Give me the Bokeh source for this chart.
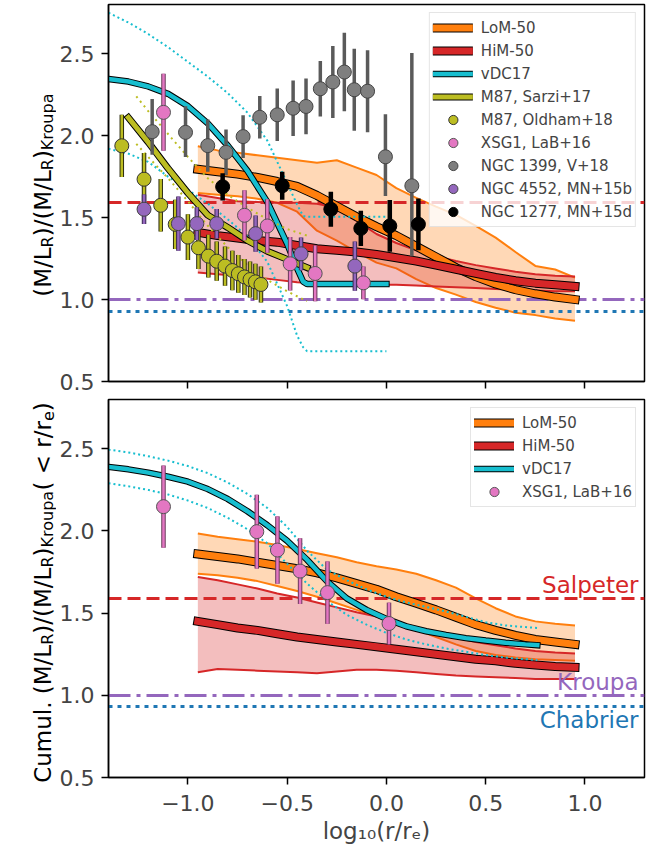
import math
from bokeh.plotting import figure
from bokeh.models import (ColumnDataSource, Legend, LegendItem, Label, FixedTicker,
                          CustomJSTickFormatter, PrintfTickFormatter, Range1d)
from bokeh.layouts import column, row
from bokeh.embed import file_html
from bokeh.resources import INLINE

# ------------------------------------------------------------------ data
XLIM = (-1.4, 1.3)
YLIM = (0.5, 2.8)
x_ticks = [-1.0, -0.5, 0.0, 0.5, 1.0]
y_ticks = [0.5, 1.0, 1.5, 2.0, 2.5]

imf_names = ["Salpeter", "Kroupa", "Chabrier"]
imf_values = [1.59, 1.0, 0.93]

x_model = [-0.95, -0.85, -0.75, -0.65, -0.55, -0.45, -0.35, -0.25, -0.15, -0.05,
           0.05, 0.15, 0.25, 0.35, 0.45, 0.55, 0.65, 0.75, 0.85, 0.95]

# local profiles (top panel)
lom_local = [1.795, 1.78, 1.765, 1.745, 1.72, 1.69, 1.635, 1.57, 1.505, 1.445,
             1.39, 1.325, 1.26, 1.195, 1.14, 1.095, 1.06, 1.035, 1.015, 1.0]
lom_local_hi = [1.935, 1.91, 1.895, 1.88, 1.865, 1.85, 1.835, 1.85, 1.805, 1.76,
                1.68, 1.62, 1.567, 1.517, 1.45, 1.378, 1.29, 1.205, 1.183, 1.134]
lom_local_lo = [1.65, 1.64, 1.63, 1.615, 1.59, 1.536, 1.42, 1.36, 1.29, 1.225,
                1.19, 1.125, 1.07, 1.03, 0.985, 0.95, 0.92, 0.905, 0.885, 0.87]
him_local = [1.41, 1.39, 1.375, 1.36, 1.35, 1.33, 1.31, 1.30, 1.29, 1.275,
             1.255, 1.235, 1.21, 1.185, 1.16, 1.135, 1.115, 1.10, 1.09, 1.08]
him_local_hi = [1.64, 1.62, 1.60, 1.595, 1.59, 1.59, 1.585, 1.56, 1.48, 1.40,
                1.345, 1.30, 1.265, 1.235, 1.21, 1.19, 1.17, 1.155, 1.145, 1.14]
him_local_lo = [1.165, 1.155, 1.145, 1.135, 1.12, 1.105, 1.10, 1.095, 1.095, 1.09,
                1.09, 1.085, 1.08, 1.075, 1.07, 1.065, 1.06, 1.055, 1.05, 1.05]

# cumulative profiles (bottom panel)
lom_cum = [1.86, 1.845, 1.83, 1.81, 1.79, 1.77, 1.745, 1.715, 1.68, 1.645,
           1.60, 1.56, 1.52, 1.475, 1.43, 1.395, 1.365, 1.34, 1.325, 1.31]
lom_cum_hi = [1.985, 1.965, 1.95, 1.935, 1.915, 1.89, 1.865, 1.84, 1.81, 1.785,
              1.765, 1.74, 1.70, 1.655, 1.59, 1.53, 1.48, 1.45, 1.435, 1.425]
lom_cum_lo = [1.74, 1.73, 1.715, 1.695, 1.665, 1.635, 1.60, 1.56, 1.52, 1.48,
              1.44, 1.40, 1.355, 1.31, 1.27, 1.245, 1.23, 1.22, 1.215, 1.21]
him_cum = [1.45, 1.43, 1.41, 1.395, 1.375, 1.355, 1.34, 1.325, 1.31, 1.295,
           1.28, 1.265, 1.25, 1.235, 1.22, 1.21, 1.195, 1.185, 1.175, 1.17]
him_cum_hi = [1.72, 1.70, 1.675, 1.65, 1.62, 1.595, 1.565, 1.535, 1.505, 1.48,
              1.45, 1.415, 1.38, 1.35, 1.325, 1.305, 1.285, 1.27, 1.26, 1.255]
him_cum_lo = [1.14, 1.16, 1.155, 1.15, 1.145, 1.14, 1.135, 1.145, 1.155, 1.155,
              1.15, 1.14, 1.13, 1.12, 1.115, 1.11, 1.105, 1.10, 1.10, 1.10]

# vDC17 local
x_vdc_local = [-1.4, -1.3, -1.2, -1.1, -1.0, -0.9, -0.8, -0.7, -0.6, -0.5, -0.45,
               -0.42, -0.4, -0.3, -0.2, -0.1, 0.0]
vdc_local = [2.345, 2.33, 2.30, 2.255, 2.18, 2.075, 1.94, 1.785, 1.595, 1.34, 1.19,
             1.11, 1.095, 1.095, 1.095, 1.095, 1.095]
vdc_local_hi = [2.75, 2.69, 2.62, 2.54, 2.45, 2.36, 2.26, 2.14, 1.97, 1.71, 1.58,
                1.51, 1.505, 1.505, 1.505, 1.505, 1.505]
vdc_local_lo = [1.92, 1.89, 1.84, 1.75, 1.67, 1.585, 1.49, 1.385, 1.23, 0.96, 0.78,
                0.71, 0.685, 0.685, 0.685, 0.685, 0.685]

# vDC17 cumulative
x_vdc_cum = [-1.4, -1.3, -1.2, -1.1, -1.0, -0.9, -0.8, -0.7, -0.6, -0.5, -0.4, -0.3,
             -0.2, -0.1, 0.0, 0.1, 0.2, 0.3, 0.4, 0.5, 0.6, 0.7, 0.76]
vdc_cum = [2.39, 2.375, 2.355, 2.33, 2.30, 2.255, 2.195, 2.12, 2.035, 1.94, 1.825, 1.695,
           1.59, 1.52, 1.465, 1.42, 1.39, 1.368, 1.348, 1.333, 1.32, 1.31, 1.305]
vdc_cum_hi = [2.495, 2.478, 2.455, 2.428, 2.395, 2.352, 2.295, 2.225, 2.14, 2.025, 1.88, 1.765,
              1.70, 1.645, 1.60, 1.565, 1.538, 1.51, 1.478, 1.445, 1.425, 1.415, 1.41]
vdc_cum_lo = [2.29, 2.272, 2.25, 2.222, 2.185, 2.14, 2.08, 2.01, 1.925, 1.80, 1.68, 1.575,
              1.49, 1.43, 1.38, 1.34, 1.31, 1.285, 1.265, 1.245, 1.23, 1.22, 1.215]

# M87, Sarzi+17
x_sarzi = [-1.3, -1.2, -1.1, -1.0, -0.9, -0.8, -0.7, -0.6, -0.5, -0.4]
sarzi = [2.11, 1.96, 1.80, 1.65, 1.515, 1.44, 1.36, 1.295, 1.245, 1.195]
x_sarzi_b = [-1.26, -1.2, -1.1, -1.0, -0.9, -0.8, -0.7, -0.6, -0.5, -0.4]
sarzi_hi = [2.24, 2.15, 2.01, 1.87, 1.74, 1.64, 1.56, 1.49, 1.43, 1.39]
sarzi_lo = [1.95, 1.87, 1.74, 1.60, 1.45, 1.32, 1.21, 1.12, 1.05, 0.99]

# M87, Oldham+18
oldham_x = [-1.333, -1.221, -1.137, -1.064, -1.0, -0.947, -0.897, -0.855, -0.813,
            -0.776, -0.746, -0.715, -0.687, -0.660, -0.632]
oldham_y = [1.938, 1.734, 1.575, 1.459, 1.381, 1.316, 1.265, 1.234, 1.204,
            1.177, 1.157, 1.138, 1.122, 1.108, 1.092]
oldham_e = [0.19, 0.16, 0.16, 0.15, 0.14, 0.13, 0.13, 0.12, 0.12,
            0.12, 0.115, 0.11, 0.11, 0.11, 0.11]

# XSG1, LaB+16 (local)
xsg1_x = [-1.123, -0.715, -0.600, -0.485, -0.359, -0.116]
xsg1_y = [2.142, 1.514, 1.449, 1.218, 1.159, 1.102]
xsg1_e = [0.235, 0.153, 0.163, 0.163, 0.17, 0.10]

# NGC 1399, V+18
n1399_x = [-1.18, -1.012, -0.90, -0.808, -0.722, -0.638, -0.55, -0.47, -0.405, -0.333,
           -0.27, -0.212, -0.162, -0.095, -0.005, 0.128]
n1399_y = [2.024, 2.02, 1.939, 1.898, 1.994, 2.112, 2.127, 2.167, 2.178, 2.286,
           2.327, 2.388, 2.28, 2.271, 1.871, 1.694]
n1399_elo = [0.14, 0.15, 0.16, 0.14, 0.13, 0.13, 0.16, 0.17, 0.17, 0.17,
             0.22, 0.24, 0.25, 0.25, 0.24, 0.43]
n1399_ehi = [0.20, 0.16, 0.16, 0.14, 0.13, 0.13, 0.16, 0.17, 0.17, 0.17,
             0.22, 0.24, 0.25, 0.25, 0.26, 0.81]

# NGC 4552, MN+15b
n4552_x = [-1.221, -1.048, -0.955, -0.855, -0.659, -0.430, -0.159]
n4552_y = [1.551, 1.463, 1.463, 1.463, 1.402, 1.279, 1.204]
n4552_e = [0.09, 0.165, 0.10, 0.09, 0.11, 0.10, 0.15]

# NGC 1277, MN+15d
n1277_x = [-0.825, -0.525, -0.28, -0.129, 0.017, 0.161]
n1277_y = [1.688, 1.694, 1.551, 1.434, 1.449, 1.459]
n1277_e = [0.083, 0.085, 0.107, 0.107, 0.158, 0.158]

# XSG1, LaB+16 (cumulative)
xsg1c_x = [-1.123, -0.653, -0.549, -0.435, -0.297, 0.013]
xsg1c_y = [2.148, 1.996, 1.884, 1.756, 1.625, 1.437]
xsg1c_e = [0.25, 0.225, 0.205, 0.20, 0.19, 0.127]

# ------------------------------------------------------------------ style
FONT = "DejaVu Sans"
ORANGE = "#ff7f0e"; RED = "#d62728"; CYAN = "#17becf"; OLIVE = "#bcbd22"
PINK = "#e377c2"; GRAY = "#7f7f7f"; PURPLE = "#9467bd"; BLUE = "#1f77b4"
IMF_COLORS = [RED, PURPLE, BLUE]
IMF_DASH = ["13 6", "22 6 4 6", "4 5"]

LAB_W = 56          # width of the strip holding the rotated y label
FRAME_W = 536
EM = {'(': 0.390, ')': 0.390, 'M': 0.863, '/': 0.337, 'L': 0.557, 'R': 0.695,
      'K': 0.656, 'r': 0.411, 'o': 0.612, 'u': 0.634, 'p': 0.635, 'a': 0.613,
      'C': 0.698, 'm': 0.974, 'l': 0.278, '.': 0.318, ' ': 0.318, '<': 0.838,
      'e': 0.615}
FS_MAIN, FS_SUB = 23, 16


def make_fig(frame_h, top_border, bottom_border, show_xlabels):
    p = figure(frame_width=FRAME_W, frame_height=frame_h,
               x_range=Range1d(*XLIM), y_range=Range1d(*YLIM),
               output_backend="svg", toolbar_location=None,
               min_border_left=106 - LAB_W, min_border_right=10,
               min_border_top=top_border, min_border_bottom=bottom_border)
    p.xgrid.visible = False
    p.ygrid.visible = False
    p.outline_line_color = "black"
    p.outline_line_width = 1.5
    p.background_fill_color = "white"
    p.border_fill_color = "white"
    for ax in (p.xaxis[0], p.yaxis[0]):
        ax.axis_line_width = 1.5
        ax.major_tick_line_width = 1.5
        ax.major_tick_out = 7
        ax.major_tick_in = 0
        ax.minor_tick_line_color = None
        ax.major_label_text_font = FONT
        ax.major_label_text_font_size = "22px"
        ax.axis_label_text_font = FONT
        ax.axis_label_text_font_size = "23px"
        ax.axis_label_text_font_style = "normal"
    p.xaxis.ticker = FixedTicker(ticks=x_ticks, minor_ticks=[])
    p.yaxis.ticker = FixedTicker(ticks=y_ticks, minor_ticks=[])
    p.yaxis.formatter = PrintfTickFormatter(format="%.1f")
    p.yaxis.major_label_standoff = 7
    if show_xlabels:
        p.xaxis.formatter = CustomJSTickFormatter(
            code="return (tick < 0 ? '\u2212' : '') + Math.abs(tick).toFixed(1);")
        p.xaxis.major_label_standoff = 10
        p.xaxis.axis_label = "log\u2081\u2080(r/r\u2091)"
        p.xaxis.axis_label_standoff = 4
    else:
        p.xaxis.formatter = CustomJSTickFormatter(code="return '';")
        p.xaxis.major_label_text_font_size = "1px"
        p.xaxis.major_label_standoff = 0
    return p


def label_strip(pieces, height, center_from_top, shift_px=0):
    """A narrow figure to the left of a panel carrying its rotated y label."""
    s = figure(frame_width=LAB_W, frame_height=height,
               x_range=Range1d(0, LAB_W), y_range=Range1d(0, height),
               output_backend="svg", toolbar_location=None,
               min_border=0)
    s.axis.visible = False
    s.xgrid.visible = False
    s.ygrid.visible = False
    s.outline_line_color = None
    s.background_fill_color = "white"
    s.border_fill_color = "white"
    sizes = [FS_SUB if sub else FS_MAIN for _, sub in pieces]
    widths = [sum(EM.get(c, 0.6) for c in t) * z for (t, _), z in zip(pieces, sizes)]
    pos = height - center_from_top + shift_px - sum(widths) / 2
    for (t, sub), z, w in zip(pieces, sizes, widths):
        s.add_layout(Label(x=42 + (5 if sub else 0), y=pos, text=t, angle=math.pi / 2,
                           text_align="left", text_baseline="alphabetic",
                           text_font=FONT, text_font_size=f"{z}px",
                           text_color="black"))
        pos += w
    return s


def band(p, x, lo, hi, color):
    p.varea(x=x, y1=lo, y2=hi, fill_color=color, fill_alpha=0.3)
    p.line(x, hi, line_color=color, line_width=2)
    p.line(x, lo, line_color=color, line_width=2)


def thick(p, x, y, color, w):
    a = p.line(x, y, line_color="black", line_width=w + 2, line_cap="square")
    b = p.line(x, y, line_color=color, line_width=w, line_cap="square")
    return [a, b]


def imf_lines(p):
    for v, c, d in zip(imf_values, IMF_COLORS, IMF_DASH):
        p.hspan(y=[v], line_color=c, line_width=3.2, line_dash=d)


def errpoints(p, xs, ys, elo, ehi, fill, bar, outline, edge, barw=2.5):
    src = ColumnDataSource(dict(x=xs, y=ys,
                                lo=[y - e for y, e in zip(ys, elo)],
                                hi=[y + e for y, e in zip(ys, ehi)]))
    if outline:
        p.segment(x0="x", y0="lo", x1="x", y1="hi", source=src,
                  line_color=outline, line_width=barw + 2)
    p.segment(x0="x", y0="lo", x1="x", y1="hi", source=src,
              line_color=bar, line_width=barw)
    return p.scatter(x="x", y="y", source=src, size=14, fill_color=fill,
                     line_color=edge, line_width=1)


def style_legend(leg):
    leg.location = "top_right"
    leg.margin = 8
    leg.padding = 3
    leg.spacing = 0
    leg.glyph_width = 40
    leg.glyph_height = 23
    leg.label_height = 23
    leg.label_standoff = 8
    leg.label_text_font = FONT
    leg.label_text_font_size = "15px"
    leg.background_fill_color = "white"
    leg.background_fill_alpha = 0.8
    leg.border_line_color = "#cccccc"
    leg.border_line_width = 1


# ------------------------------------------------------------------ top panel
TOP_H, TOP_B, TOP_BOT = 377, 4, 14
p1 = make_fig(TOP_H, TOP_B, TOP_BOT, False)
band(p1, x_model, lom_local_lo, lom_local_hi, ORANGE)
band(p1, x_model, him_local_lo, him_local_hi, RED)
imf_lines(p1)
r_lom = thick(p1, x_model, lom_local, ORANGE, 7)
r_him = thick(p1, x_model, him_local, RED, 7)
p1.line(x_vdc_local, vdc_local_hi, line_color=CYAN, line_width=2, line_dash="2 3")
p1.line(x_vdc_local, vdc_local_lo, line_color=CYAN, line_width=2, line_dash="2 3")
r_vdc = thick(p1, x_vdc_local, vdc_local, CYAN, 4.5)
p1.line(x_sarzi_b, sarzi_hi, line_color=OLIVE, line_width=2, line_dash="2 4")
p1.line(x_sarzi_b, sarzi_lo, line_color=OLIVE, line_width=2, line_dash="2 4")
r_sarzi = thick(p1, x_sarzi, sarzi, OLIVE, 5)

r_old = errpoints(p1, oldham_x, oldham_y, oldham_e, oldham_e, OLIVE, OLIVE, "#2b2b10", "#333333")
r_xsg = errpoints(p1, xsg1_x, xsg1_y, xsg1_e, xsg1_e, PINK, PINK, "#6b3a5c", "#555555")
r_1399 = errpoints(p1, n1399_x, n1399_y, n1399_elo, n1399_ehi, GRAY, "#5a5a5a", None, "#444444", barw=3.5)
r_4552 = errpoints(p1, n4552_x, n4552_y, n4552_e, n4552_e, PURPLE, PURPLE, "#3e2a55", "#444444")
r_1277 = errpoints(p1, n1277_x, n1277_y, n1277_e, n1277_e, "black", "black", None, "black", barw=4.5)

leg1 = Legend(items=[
    LegendItem(label="LoM-50", renderers=r_lom),
    LegendItem(label="HiM-50", renderers=r_him),
    LegendItem(label="vDC17", renderers=r_vdc),
    LegendItem(label="M87, Sarzi+17", renderers=r_sarzi),
    LegendItem(label="M87, Oldham+18", renderers=[r_old]),
    LegendItem(label="XSG1, LaB+16", renderers=[r_xsg]),
    LegendItem(label="NGC 1399, V+18", renderers=[r_1399]),
    LegendItem(label="NGC 4552, MN+15b", renderers=[r_4552]),
    LegendItem(label="NGC 1277, MN+15d", renderers=[r_1277]),
])
style_legend(leg1)
p1.add_layout(leg1)

s1 = label_strip([("(M/L", 0), ("R", 1), (")/(M/L", 0), ("R", 1), (")", 0), ("Kroupa", 1)],
                 TOP_B + TOP_H + TOP_BOT, TOP_B + TOP_H / 2, shift_px=2)

# ------------------------------------------------------------------ bottom panel
BOT_H, BOT_B = 378, 4
p2 = make_fig(BOT_H, BOT_B, 0, True)
band(p2, x_model, lom_cum_lo, lom_cum_hi, ORANGE)
band(p2, x_model, him_cum_lo, him_cum_hi, RED)
imf_lines(p2)
q_lom = thick(p2, x_model, lom_cum, ORANGE, 7)
q_him = thick(p2, x_model, him_cum, RED, 7)
p2.line(x_vdc_cum, vdc_cum_hi, line_color=CYAN, line_width=2, line_dash="2 3")
p2.line(x_vdc_cum, vdc_cum_lo, line_color=CYAN, line_width=2, line_dash="2 3")
q_vdc = thick(p2, x_vdc_cum, vdc_cum, CYAN, 4.5)
q_xsg = errpoints(p2, xsg1c_x, xsg1c_y, xsg1c_e, xsg1c_e, PINK, PINK, "#6b3a5c", "#555555")

leg2 = Legend(items=[
    LegendItem(label="LoM-50", renderers=q_lom),
    LegendItem(label="HiM-50", renderers=q_him),
    LegendItem(label="vDC17", renderers=q_vdc),
    LegendItem(label="XSG1, LaB+16", renderers=[q_xsg]),
])
style_legend(leg2)
p2.add_layout(leg2)

for name, v, c, bl in zip(imf_names, imf_values, IMF_COLORS, ["bottom", "bottom", "top"]):
    p2.add_layout(Label(x=XLIM[1], y=v, x_offset=-6, text=name, text_align="right",
                        text_baseline=bl, text_color=c, text_font=FONT,
                        text_font_size="23px"))

s2 = label_strip([("Cumul. (M/L", 0), ("R", 1), (")/(M/L", 0), ("R", 1), (")", 0),
                  ("Kroupa", 1), ("( < r/r", 0), ("e", 1), (")", 0)],
                 430, BOT_B + BOT_H / 2)

layout = column(row(s1, p1, spacing=0), row(s2, p2, spacing=0), spacing=0)
with open("out.html", "w", encoding="utf-8") as fh:
    fh.write(file_html(layout, INLINE))
